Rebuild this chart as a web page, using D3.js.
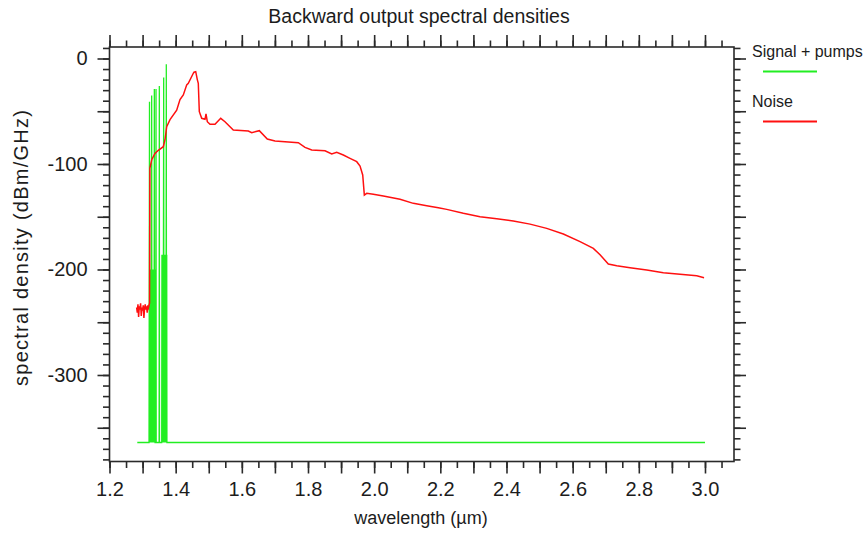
<!DOCTYPE html>
<html><head><meta charset="utf-8">
<script src="https://cdn.jsdelivr.net/npm/d3@7"></script>
<style>
body{margin:0;background:#fff;}
text{font-family:"Liberation Sans",Arial,sans-serif;fill:#1c1c1c;}
</style>
</head><body>
<svg id="c" width="867" height="535"></svg>
<script>
// ---- data ----
const titleText = "Backward output spectral densities";
const xAxisTitle = "wavelength (\u00b5m)";
const yAxisTitle = "spectral density (dBm/GHz)";
const seriesNames = ["Signal + pumps", "Noise"];
const seriesColors = ["#22ee22", "#ff1010"];

const xTickValues = [1.2, 1.4, 1.6, 1.8, 2.0, 2.2, 2.4, 2.6, 2.8, 3.0];
const xTickLabels = ["1.2", "1.4", "1.6", "1.8", "2.0", "2.2", "2.4", "2.6", "2.8", "3.0"];
const yTickValues = [0, -100, -200, -300];
const yTickLabels = ["0", "-100", "-200", "-300"];

const noiseWl = [1.282,1.284,1.286,1.288,1.290,1.292,1.294,1.296,1.298,1.300,1.302,1.304,1.306,1.308,1.310,1.312,1.314,1.316,1.318,1.320,1.321,
  1.322,1.3276,1.3375,1.3475,1.3626,1.3678,1.3729,1.3829,1.4031,1.4131,1.4231,1.4334,1.4382,1.4533,1.4554,1.4606,1.4654,1.4684,1.4715,
  1.4787,1.4887,1.4917,1.4957,1.5038,1.5189,1.5362,1.5491,1.5742,1.6196,1.6299,1.6528,1.6770,1.7003,1.7305,1.7707,1.7910,1.8112,1.8515,
  1.8717,1.8868,1.9068,1.9270,1.9473,1.9573,1.9654,1.9703,1.9775,1.9975,2.0277,2.0782,2.1184,2.1589,2.1940,2.2193,2.2695,2.3200,2.3705,
  2.4207,2.4712,2.5216,2.5718,2.6223,2.6625,2.6828,2.7078,2.7333,2.7735,2.8240,2.8741,2.9246,2.9751,2.9972];
const noiseDb = [-236,-241,-233,-245,-235,-238,-232,-244,-236,-239,-234,-246,-237,-233,-238,-235,-241,-234,-236,-233,-232,
  -104,-96,-90,-87,-83.6,-77,-64.6,-58,-49,-39,-34.6,-25,-23.5,-14,-13,-12.5,-20,-23.5,-50.4,
  -56.7,-57.6,-52.6,-59.9,-62.4,-62.4,-56.7,-59.9,-67.8,-68.7,-70.3,-68.4,-76.3,-78.2,-78.9,-79.8,-84.2,-86.7,-87.4,
  -90.5,-88.9,-91.5,-94.6,-97.8,-101.9,-110.4,-129.4,-127.8,-128.7,-130.3,-133.5,-137.3,-139.5,-141.4,-143,-146.7,-150,-152,
  -154,-157,-161,-166.4,-173.6,-180,-186,-194.8,-196.4,-198.3,-200.5,-203,-204.6,-206,-207.8];

const signalWl = [1.284,1.3195,1.3209,1.3214,1.3218,1.3224,1.3230,1.3236,1.3242,1.3248,1.3254,1.3260,1.3268,1.3275,1.3282,1.3290,1.3298,
  1.3306,1.3314,1.3322,1.3330,1.3338,1.3346,1.3355,1.3362,1.3370,1.3378,1.3400,1.3406,1.3412,1.3500,1.3506,1.3512,
  1.3578,1.3585,1.3593,1.3600,1.3608,1.3615,1.3623,1.3630,1.3638,1.3645,1.3653,1.3660,1.3668,1.3675,1.3683,1.3690,1.3698,1.3705,
  1.3712,1.3717,1.3724,1.3730,1.3736,3.0];
const signalDb = [-364,-364,-41,-364,-200,-364,-200,-364,-200,-364,-200,-364,-200,-35,-364,-200,-364,
  -200,-364,-200,-364,-200,-364,-29,-364,-200,-364,-364,-29,-364,-364,-26,-364,
  -364,-186,-364,-186,-364,-186,-364,-186,-18,-364,-186,-364,-186,-364,-186,-364,-186,-364,
  -186,-5.5,-364,-186,-364,-364];

// ---- chart ----
const svg = d3.select("#c");
const L = 109.5, T = 47, R = 734, B = 461.5;
const x = d3.scaleLinear().domain([1.2, 3.0877]).range([L, R]);
const y = d3.scaleLinear().domain([-382, 10.9]).range([B, T]);

const axisColor = "#2a2a2a";
const xMinor = d3.range(24, 62).map(i => +(i * 0.05).toFixed(2));
const xMajor = d3.range(12, 31).map(i => +(i / 10).toFixed(1));
const yMinor = d3.range(-38, 2).map(i => i * 10);
const yMajor = d3.range(-7, 1).map(i => i * 50);

function styleAxis(g) {
  g.select(".domain").remove();
  g.selectAll(".tick line").attr("stroke", axisColor).attr("stroke-width", 1.6);
}
const makers = [
  [s => d3.axisBottom(s), x, `translate(0,${B})`, xMinor, xMajor],
  [s => d3.axisTop(s), x, `translate(0,${T})`, xMinor, xMajor],
  [s => d3.axisLeft(s), y, `translate(${L},0)`, yMinor, yMajor],
  [s => d3.axisRight(s), y, `translate(${R},0)`, yMinor, yMajor]
];
makers.forEach(([mk, sc, tr, minor, major]) => {
  svg.append("g").attr("transform", tr)
    .call(mk(sc).tickValues(minor).tickSize(6.5).tickFormat(""))
    .call(styleAxis);
  svg.append("g").attr("transform", tr)
    .call(mk(sc).tickValues(major).tickSize(12).tickFormat(""))
    .call(styleAxis);
});

// frame
svg.append("rect").attr("x", L).attr("y", T).attr("width", R - L).attr("height", B - T)
  .attr("fill", "none").attr("stroke", axisColor).attr("stroke-width", 1.6);

// tick labels
svg.append("g").attr("transform", `translate(0,${B})`)
  .call(d3.axisBottom(x).tickValues(xTickValues).tickSize(0).tickPadding(20)
    .tickFormat((d, i) => xTickLabels[i]))
  .call(g => { g.select(".domain").remove(); g.selectAll("text").attr("font-size", 20).attr("fill", "#1c1c1c"); });

svg.append("g").attr("transform", `translate(${L},0)`)
  .call(d3.axisLeft(y).tickValues(yTickValues).tickSize(0).tickPadding(22)
    .tickFormat((d, i) => yTickLabels[i]))
  .call(g => { g.select(".domain").remove(); g.selectAll("text").attr("font-size", 20).attr("fill", "#1c1c1c"); });

// lines
svg.append("clipPath").attr("id", "clp").append("rect")
  .attr("x", L).attr("y", T).attr("width", R - L).attr("height", B - T);
const line = d3.line().x(d => x(d[0])).y(d => y(d[1]));
const signal = signalWl.map((w, i) => [w, signalDb[i]]);
const noise = noiseWl.map((w, i) => [w, noiseDb[i]]);
svg.append("path").datum(signal).attr("d", line).attr("fill", "none")
  .attr("stroke", seriesColors[0]).attr("stroke-width", 1.3).attr("clip-path", "url(#clp)");
svg.append("path").datum(noise).attr("d", line).attr("fill", "none")
  .attr("stroke", seriesColors[1]).attr("stroke-width", 1.5).attr("clip-path", "url(#clp)");

// titles
svg.append("text").attr("x", 419).attr("y", 23).attr("text-anchor", "middle")
  .attr("font-size", 19.5).text(titleText);
svg.append("text").attr("x", 421).attr("y", 524).attr("text-anchor", "middle")
  .attr("font-size", 18).text(xAxisTitle);
svg.append("text").attr("transform", "translate(28,248) rotate(-90)").attr("text-anchor", "middle")
  .attr("font-size", 20).attr("textLength", 276).attr("lengthAdjust", "spacing").text(yAxisTitle);

// legend
const legY = [57, 107];
seriesNames.forEach((n, i) => {
  svg.append("text").attr("x", 752).attr("y", legY[i]).attr("font-size", 16).text(n);
  svg.append("line").attr("x1", 763).attr("x2", 817).attr("y1", legY[i] + 14.5).attr("y2", legY[i] + 14.5)
    .attr("stroke", seriesColors[i]).attr("stroke-width", 1.8);
});
</script>
</body></html>
